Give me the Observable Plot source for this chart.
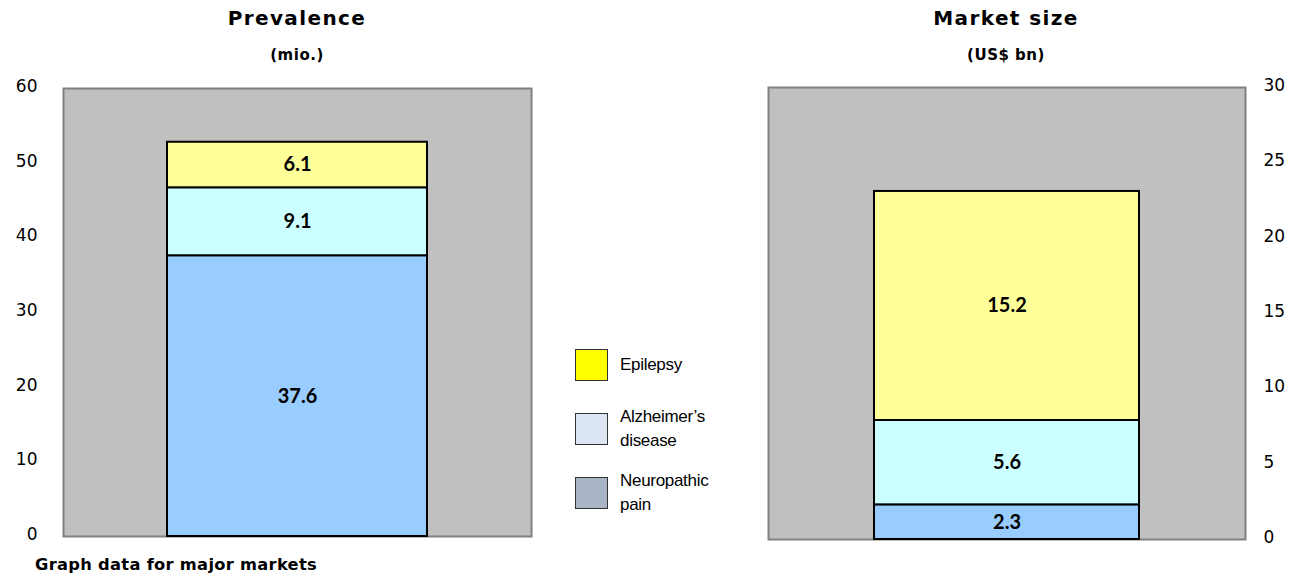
<!DOCTYPE html>
<html>
<head>
<meta charset="utf-8">
<script src="https://cdn.jsdelivr.net/npm/d3@7"></script>
<script src="https://cdn.jsdelivr.net/npm/@observablehq/plot@0.6"></script>
<style>
  html, body { margin: 0; padding: 0; background: #fff; }
  #page { position: relative; width: 1292px; height: 579px; overflow: hidden; font-family: "DejaVu Sans", sans-serif; color: #000; }
  .chart { position: absolute; top: 0; }
  .title { position: absolute; text-align: center; font-weight: bold; white-space: nowrap; }
  .title .main { font-size: 20px; line-height: 24px; letter-spacing: 1.4px; }
  .title .unit { font-size: 15px; line-height: 18px; margin-top: 16px; letter-spacing: 0.5px; }
  .note { position: absolute; left: 35px; top: 555px; font-size: 16.3px; font-weight: bold; white-space: nowrap; letter-spacing: 0.3px; }
  .legend { position: absolute; left: 575px; top: 349px; font-family: "Liberation Sans", Arial, sans-serif; font-size: 17px; }
  .legend .item { position: absolute; left: 0; width: 160px; height: 40px; }
  .legend .swatch { position: absolute; left: 0; top: 0; width: 33px; height: 32px; border: 1.5px solid #333; box-sizing: border-box; }
  .legend .label { position: absolute; left: 45px; line-height: 24px; letter-spacing: -0.3px; }
</style>
</head>
<body>
<div id="page"></div>
<script>
// Disease areas, stacked from the bottom up
const categories = ["Neuropathic pain", "Alzheimer’s disease", "Epilepsy"];
const prevalence = [37.6, 9.1, 6.1];   // mio. patients
const marketSize = [2.3, 5.6, 15.2];   // US$ bn
const barColors = ["#99CCFF", "#CCFFFF", "#FFFF99"];

// Legend entries, listed top to bottom
const legendNames = [["Epilepsy"], ["Alzheimer’s", "disease"], ["Neuropathic", "pain"]];
const legendColors = ["#FFFF00", "#DCE6F2", "#A9B4C6"];

const prevalenceTicks = [0, 10, 20, 30, 40, 50, 60];
const marketTicks = [0, 5, 10, 15, 20, 25, 30];

const page = document.getElementById("page");

function stackedChart({values, ticks, axisAnchor, width, marginLeft, marginRight, marginTop, marginBottom, tickPadding}) {
  const rows = categories.map((c, i) => ({group: "all", category: c, value: values[i], color: barColors[i]}));
  return Plot.plot({
    width,
    height: 579,
    marginLeft, marginRight, marginTop, marginBottom,
    style: {fontFamily: "DejaVu Sans, sans-serif", fontSize: "17px", background: "transparent", overflow: "visible"},
    x: {domain: ["all"], padding: 2 / 7, axis: null},
    y: {domain: [ticks[0], ticks[ticks.length - 1]]},
    marks: [
      Plot.frame({fill: "#C0C0C0", stroke: "#808080", strokeWidth: 2}),
      Plot.axisY({anchor: axisAnchor, ticks, tickSize: 0, tickPadding, label: null, fontSize: 17, dy: -2}),
      Plot.barY(rows, {x: "group", y: "value", fill: "color", stroke: "#000", strokeWidth: 2}),
      Plot.text(rows, Plot.stackY({
        x: "group", y: "value",
        text: d => d.value.toFixed(1),
        fontFamily: "Lato, sans-serif", fontWeight: "bold", fontSize: 20, fill: "#000"
      }))
    ]
  });
}

// Left: prevalence
const left = stackedChart({
  values: prevalence, ticks: prevalenceTicks, axisAnchor: "left",
  width: 560, marginLeft: 63, marginRight: 29, marginTop: 88, marginBottom: 43, tickPadding: 26
});
left.classList.add("chart");
left.style.left = "0px";
page.appendChild(left);

// Right: market size
const right = stackedChart({
  values: marketSize, ticks: marketTicks, axisAnchor: "right",
  width: 552, marginLeft: 28, marginRight: 47, marginTop: 87, marginBottom: 40, tickPadding: 18
});
right.classList.add("chart");
right.style.left = "740px";
page.appendChild(right);

// Chart titles
function title(text, unit, centerX) {
  const t = document.createElement("div");
  t.className = "title";
  t.style.left = (centerX - 150) + "px";
  t.style.width = "300px";
  t.style.top = "6px";
  t.innerHTML = `<div class="main"></div><div class="unit"></div>`;
  t.querySelector(".main").textContent = text;
  t.querySelector(".unit").textContent = unit;
  page.appendChild(t);
}
title("Prevalence", "(mio.)", 297);
title("Market size", "(US$ bn)", 1006);

// Footnote
const note = document.createElement("div");
note.className = "note";
note.textContent = "Graph data for major markets";
page.appendChild(note);

// Legend
const legend = document.createElement("div");
legend.className = "legend";
legendNames.forEach((lines, i) => {
  const item = document.createElement("div");
  item.className = "item";
  item.style.top = (i * 64) + "px";
  const sw = document.createElement("div");
  sw.className = "swatch";
  sw.style.background = legendColors[i];
  const lab = document.createElement("div");
  lab.className = "label";
  lab.style.top = (lines.length === 1 ? 4 : -8) + "px";
  lab.innerHTML = lines.map(() => `<div></div>`).join("");
  lab.querySelectorAll("div").forEach((d, j) => d.textContent = lines[j]);
  item.appendChild(sw);
  item.appendChild(lab);
  legend.appendChild(item);
});
page.appendChild(legend);
</script>
</body>
</html>
